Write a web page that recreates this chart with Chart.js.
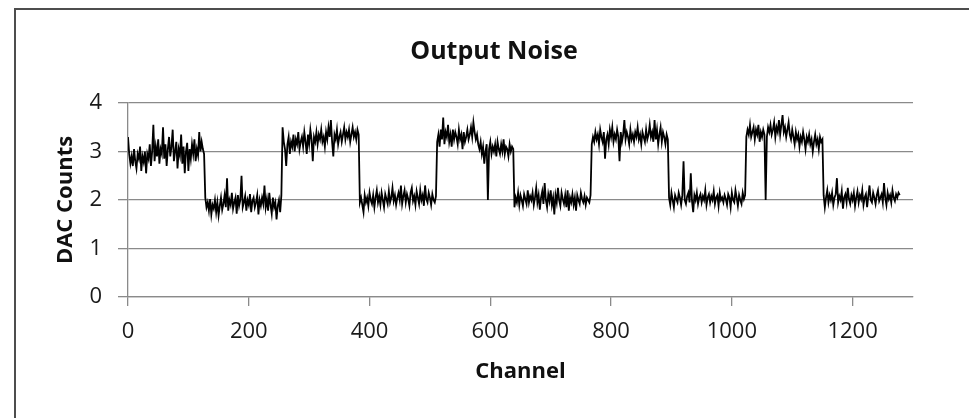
<!DOCTYPE html>
<html>
<head>
<meta charset="utf-8">
<script src="https://cdn.jsdelivr.net/npm/chart.js@4"></script>
<style>
  html, body { margin: 0; padding: 0; background: #fff; overflow: hidden; }
  .frame { position: absolute; left: 14px; top: 8px; width: 1000px; height: 500px; border: 2px solid #4d4d4d; }
  .wrap { position: absolute; left: 0; top: 0; width: 969px; height: 418px; }
</style>
</head>
<body>
<div class="frame"></div>
<div class="wrap"><canvas id="noiseChart"></canvas></div>
<script>
// chart text
const TITLE = 'Output Noise';
const X_TITLE = 'Channel';
const Y_TITLE = 'DAC Counts';

// tick labels
const xTicks = [0, 200, 400, 600, 800, 1000, 1200];
const yTicks = [0, 1, 2, 3, 4];

// one sample every 2 channels, 64 samples per 128-channel block
const CHANNEL_STEP = 2;
const block0 = [3.30, 2.95, 2.75, 2.90, 2.70, 3.05, 2.80, 2.65, 2.95, 2.85, 3.10, 2.60, 2.90, 2.78, 3.00, 2.55,
                2.95, 2.85, 3.15, 2.70, 3.00, 3.55, 2.80, 3.10, 2.90, 3.25, 2.75, 3.05, 2.95, 3.50, 2.85, 3.15,
                2.70, 3.05, 3.30, 2.90, 3.10, 3.45, 2.80, 3.00, 3.20, 2.65, 3.05, 2.92, 3.35, 2.75, 3.10, 2.55,
                3.00, 3.18, 2.60, 3.05, 2.85, 3.15, 2.95, 3.25, 2.80, 3.05, 2.92, 3.40, 3.00, 3.20, 3.05, 2.95];
const block1 = [2.05, 1.85, 1.95, 1.78, 2.02, 1.70, 1.90, 1.82, 2.00, 1.75, 1.95, 1.68, 1.88, 2.05, 1.80, 1.92,
                2.10, 1.85, 2.45, 1.78, 2.00, 1.90, 2.15, 1.82, 1.95, 2.05, 1.72, 2.10, 1.88, 2.00, 2.50, 1.85,
                1.95, 2.08, 1.78, 2.00, 1.90, 2.12, 1.75, 1.98, 2.05, 1.85, 1.95, 2.10, 1.70, 2.00, 1.88, 2.05,
                1.92, 2.30, 1.85, 2.02, 1.78, 2.15, 1.90, 1.72, 2.05, 1.85, 1.95, 1.60, 1.88, 2.00, 1.75, 2.10];
const block2 = [3.50, 3.20, 3.05, 2.70, 3.15, 3.30, 2.95, 3.20, 3.10, 3.35, 3.00, 3.25, 3.15, 3.40, 3.05, 3.20,
                3.30, 3.10, 3.40, 3.20, 2.95, 3.35, 3.15, 3.45, 3.25, 2.80, 3.30, 3.20, 3.40, 3.15, 3.35, 3.25,
                3.45, 3.20, 3.30, 3.10, 3.40, 3.25, 3.50, 3.30, 3.65, 3.20, 2.90, 3.35, 3.25, 3.45, 3.15, 3.30,
                3.40, 3.20, 3.35, 3.50, 3.25, 3.40, 3.30, 3.45, 3.20, 3.35, 3.50, 3.30, 3.40, 3.25, 3.45, 3.35];
const block3 = [1.95, 2.05, 1.90, 1.75, 2.10, 1.95, 2.05, 1.88, 2.15, 2.00, 1.92, 2.10, 1.85, 2.05, 2.20, 1.95,
                2.08, 1.90, 2.15, 2.00, 1.85, 2.12, 2.02, 1.92, 2.18, 1.95, 2.05, 2.25, 1.98, 2.10, 1.90, 2.05,
                2.15, 2.00, 2.30, 1.92, 2.08, 2.20, 1.95, 2.12, 2.02, 1.88, 2.15, 2.25, 1.98, 2.08, 1.90, 2.18,
                2.05, 1.92, 2.20, 2.00, 2.10, 1.88, 2.30, 2.02, 1.95, 2.15, 2.05, 1.90, 2.12, 2.00, 1.95, 2.08];
const block4 = [3.20, 3.35, 3.10, 3.45, 3.25, 3.70, 3.15, 3.40, 3.30, 3.55, 3.20, 3.35, 3.10, 3.45, 3.25, 3.40,
                3.30, 3.15, 3.45, 3.25, 3.35, 3.05, 3.40, 3.20, 3.30, 3.45, 3.25, 3.35, 3.50, 3.30, 3.60, 3.40,
                3.25, 3.35, 3.15, 3.05, 3.20, 2.95, 3.10, 2.75, 3.00, 3.15, 2.00, 3.05, 3.20, 2.95, 3.10, 3.00,
                3.15, 2.90, 3.20, 3.05, 2.95, 3.15, 3.00, 3.25, 2.95, 3.10, 3.05, 2.90, 3.15, 3.00, 3.10, 3.05];
const block5 = [1.85, 2.05, 1.95, 2.15, 1.90, 2.10, 2.00, 1.88, 2.12, 2.02, 1.92, 2.20, 1.95, 2.08, 2.00, 2.15,
                1.90, 2.05, 2.25, 1.95, 2.10, 1.80, 2.05, 2.18, 1.92, 2.35, 2.00, 1.85, 2.12, 1.98, 2.20, 1.90,
                2.05, 1.70, 2.10, 1.95, 2.25, 2.00, 1.88, 2.15, 2.02, 1.92, 2.10, 1.85, 2.20, 1.78, 2.05, 1.95,
                2.12, 1.90, 2.05, 1.78, 2.10, 2.00, 1.92, 2.15, 2.02, 1.95, 2.08, 1.90, 2.05, 2.00, 1.95, 2.10];
const block6 = [3.15, 3.30, 3.20, 3.40, 3.25, 3.35, 3.15, 3.45, 3.30, 3.20, 3.40, 2.85, 3.25, 3.35, 3.15, 3.45,
                3.30, 3.50, 3.20, 3.35, 3.25, 3.45, 3.30, 2.80, 3.40, 3.20, 3.35, 3.65, 3.25, 3.40, 3.30, 3.15,
                3.45, 3.25, 3.35, 3.20, 3.40, 3.30, 3.50, 3.25, 3.35, 3.15, 3.40, 3.30, 3.20, 3.45, 3.25, 3.35,
                3.55, 3.30, 3.40, 3.20, 3.65, 3.25, 3.45, 3.15, 3.35, 3.50, 3.20, 3.40, 3.30, 3.15, 3.35, 3.25];
const block7 = [2.05, 1.90, 2.15, 2.00, 1.85, 2.10, 2.02, 1.95, 2.15, 2.05, 1.90, 2.10, 2.80, 2.00, 1.92, 2.08,
                2.15, 1.95, 2.55, 1.98, 1.75, 2.10, 2.00, 2.15, 1.92, 2.05, 2.12, 1.95, 2.08, 2.00, 2.20, 1.90,
                2.05, 2.12, 1.95, 2.08, 2.00, 2.18, 1.92, 2.05, 2.10, 1.88, 2.15, 2.00, 2.05, 1.95, 2.10, 2.02,
                1.90, 2.12, 2.05, 1.85, 2.15, 2.00, 1.95, 2.20, 2.05, 1.88, 2.10, 2.00, 1.92, 2.15, 2.02, 2.10];
const block8 = [3.30, 3.45, 3.35, 3.55, 3.30, 3.40, 3.50, 3.25, 3.45, 3.35, 3.55, 3.20, 3.40, 3.30, 3.45, 3.35,
                2.00, 3.30, 3.50, 3.40, 3.55, 3.35, 3.45, 3.60, 3.30, 3.50, 3.40, 3.65, 3.35, 3.55, 3.75, 3.40,
                3.50, 3.30, 3.45, 3.60, 3.35, 3.25, 3.45, 3.30, 3.15, 3.40, 3.25, 3.35, 3.10, 3.30, 3.20, 3.40,
                3.25, 3.05, 3.30, 3.20, 3.35, 3.15, 3.25, 3.00, 3.20, 3.35, 3.15, 3.25, 3.05, 3.30, 3.20, 3.25];
const block9 = [2.10, 1.85, 2.05, 2.20, 1.95, 2.10, 2.00, 2.15, 1.90, 2.05, 2.12, 2.45, 1.95, 2.08, 2.00, 2.18,
                1.82, 2.05, 2.12, 1.95, 2.25, 2.02, 1.92, 2.10, 2.00, 2.15, 1.88, 2.05, 2.18, 1.95, 2.10, 2.02,
                2.20, 1.90, 2.05, 2.12, 1.85, 2.08, 2.30, 2.00, 1.95, 2.15, 2.05, 1.92, 2.10, 2.20, 1.98, 2.05,
                2.12, 1.95, 2.35, 2.05, 1.90, 2.15, 2.02, 2.10, 1.95, 2.20, 2.05, 1.98, 2.12, 2.05, 2.15, 2.10];

const counts = [].concat(block0, block1, block2, block3, block4, block5, block6, block7, block8, block9);
const points = counts.map((v, i) => ({ x: i * CHANNEL_STEP, y: v }));

const FONT = "'Open Sans', 'Noto Sans', sans-serif";
const GRID = '#8a8a8a';

// title is drawn a little left of the plot centre, like the original
const titlePlugin = {
    id: 'offsetTitle',
    afterDraw(chart) {
        const ctx = chart.ctx;
        ctx.save();
        ctx.font = "bold 25px " + FONT;
        ctx.fillStyle = '#111';
        ctx.textAlign = 'center';
        ctx.textBaseline = 'alphabetic';
        ctx.fillText(TITLE, 494, 59);
        ctx.restore();
    }
};

const ctx = document.getElementById('noiseChart').getContext('2d');
new Chart(ctx, {
    type: 'line',
    data: {
        datasets: [{
            label: TITLE,
            data: points,
            borderColor: '#000',
            borderWidth: 1.8,
            pointRadius: 0,
            tension: 0,
            fill: false,
        }],
    },
    options: {
        responsive: true,
        maintainAspectRatio: false,
        animation: false,
        layout: { padding: { left: 50, right: 56, top: 103, bottom: 0 } },
        plugins: {
            legend: { display: false },
            title: { display: false },
            tooltip: { enabled: false },
        },
        scales: {
            x: {
                type: 'linear',
                min: 0,
                max: 1300,
                afterBuildTicks: (scale) => { scale.ticks = xTicks.map(v => ({ value: v })); },
                afterFit: (scale) => { scale.height = 121; },
                border: { display: true, color: GRID, width: 1.3 },
                grid: { drawOnChartArea: false, drawTicks: true, tickLength: 9, color: GRID, lineWidth: 1.3 },
                ticks: { color: '#1a1a1a', font: { family: FONT, size: 22 }, padding: 13, maxRotation: 0, callback: (v) => String(v) },
                title: { display: true, text: X_TITLE, color: '#111', font: { family: FONT, size: 22, weight: 'bold' }, padding: { top: 4, bottom: 33 } },
            },
            y: {
                min: 0,
                max: 4,
                afterBuildTicks: (scale) => { scale.ticks = yTicks.map(v => ({ value: v })); },
                afterFit: (scale) => { scale.width = 78; },
                border: { display: true, color: GRID, width: 1.3 },
                grid: { drawTicks: true, tickLength: 10, color: GRID, lineWidth: 1.3 },
                ticks: { color: '#1a1a1a', font: { family: FONT, size: 22 }, padding: 16, callback: (v) => String(v) },
                title: { display: true, text: Y_TITLE, color: '#111', font: { family: FONT, size: 22, weight: 'bold' }, padding: { top: 3, bottom: 4 } },
            },
        },
    },
    plugins: [titlePlugin],
});
</script>
</body>
</html>
